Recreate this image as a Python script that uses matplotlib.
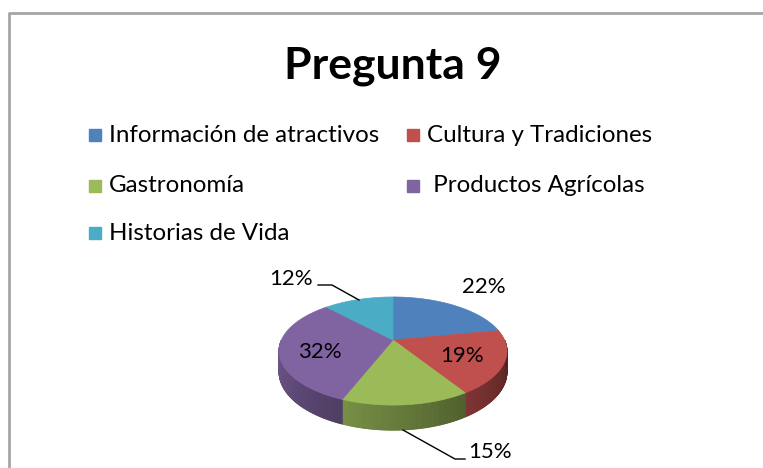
import numpy as np
import matplotlib
matplotlib.use("Agg")
import matplotlib.pyplot as plt
from matplotlib.patches import Polygon, Rectangle
from matplotlib.colors import to_rgb

# data
categorias = ["Información de atractivos", "Cultura y Tradiciones", "Gastronomía",
              " Productos Agrícolas", "Historias de Vida"]
valores = [22, 19, 15, 32, 12]
colores = ["#4F81BD", "#C0504D", "#9BBB59", "#8064A2", "#4BACC6"]
titulo = "Pregunta 9"

FONT = ["Lato", "DejaVu Sans"]

fig = plt.figure(figsize=(7.63, 4.68), dpi=100)
ax = fig.add_axes([0, 0, 1, 1])
ax.set_xlim(0, 763)
ax.set_ylim(468, 0)
ax.axis("off")

# chart border (only top / left visible in the crop)
ax.plot([9, 9, 763], [468, 13, 13], color="#A6A6A6", lw=2, solid_capstyle="butt")

ax.text(393, 66, titulo, ha="center", va="center", fontsize=32, fontweight="bold",
        family=FONT)

# legend, laid out like Excel's
leg_pos = [(89, 135), (407, 135), (89, 186), (407, 186), (89, 233)]
for (lx, ly), cat, col in zip(leg_pos, categorias, colores):
    ax.add_patch(Rectangle((lx, ly - 6), 12, 12, color=col))
    ax.text(lx + 20, ly, cat, ha="left", va="center", fontsize=17.4, family=FONT)

# pie with a simple perspective (homography of the unit circle)
cx, cy = 393, 340
A, B, k = 111.6, 51.8, 0.204
h_side = 20


def proj(th, z=0.0):
    th = np.radians(th)
    u, v = np.cos(th), np.sin(th)
    w = 1 + k * v
    return cx + A * u / w, cy - B * v / w + z / w


fracs = np.array(valores) / sum(valores)
ends = 90 - 360 * np.cumsum(fracs)
starts = np.concatenate([[90], ends[:-1]])

# side walls (front half only)
for a0, a1, col in zip(starts, ends, colores):
    lo, hi = max(a1, -180), min(a0, 0)
    if lo >= hi:
        continue
    base = np.array(to_rgb(col))
    n = max(int((hi - lo) / 0.5), 2)
    ts = np.linspace(lo, hi, n + 1)
    for i in range(n):
        t0, t1 = ts[i], ts[i + 1]
        tm = (t0 + t1) / 2
        local = (tm - lo) / (hi - lo)
        shade = 0.9 - 0.35 * ((tm + 180) / 180) - 0.15 * local
        x0, y0 = proj(t0)
        x1, y1 = proj(t1)
        x0b, y0b = proj(t0, h_side)
        x1b, y1b = proj(t1, h_side)
        ax.add_patch(Polygon([(x0, y0), (x1, y1), (x1b, y1b), (x0b, y0b)],
                             closed=True, color=np.clip(base * shade, 0, 1), lw=0.6))

# top face
for a0, a1, col in zip(starts, ends, colores):
    th = np.linspace(a0, a1, 120)
    xs, ys = proj(th)
    pts = [(cx, cy)] + list(zip(xs, ys))
    ax.add_patch(Polygon(pts, closed=True, facecolor=col, edgecolor=col, lw=0.5))

# data labels
lab_pos = [(484, 287), (462, 356), (490, 452), (320, 352), (291, 279)]
for (tx, ty), v in zip(lab_pos, valores):
    ax.text(tx, ty, f"{v}%", ha="center", va="center", fontsize=16, family=FONT)

# leader lines for the outside labels
ax.plot([318, 332, 359], [285, 285, 300], color="black", lw=1)
ax.plot([403, 455, 465], [430, 459, 459], color="black", lw=1)

fig.savefig("out.png", dpi=100)
